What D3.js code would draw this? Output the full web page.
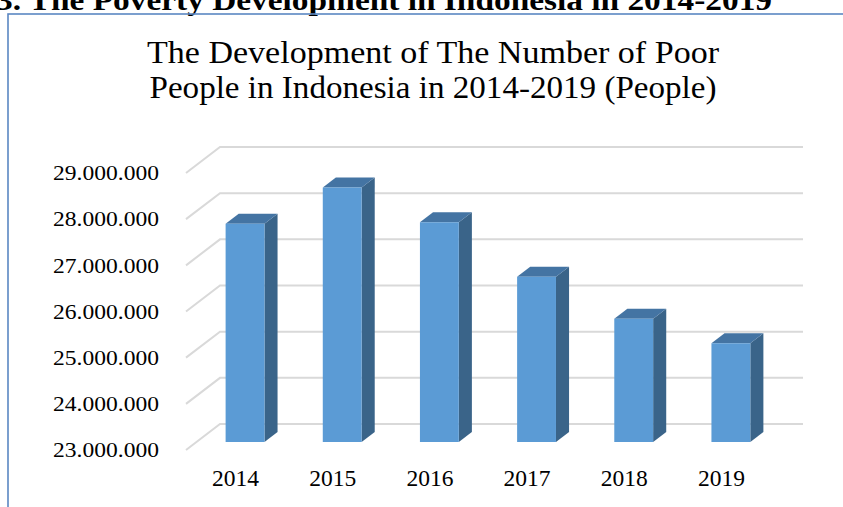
<!DOCTYPE html>
<html>
<head>
<meta charset="utf-8">
<script src="https://cdn.jsdelivr.net/npm/d3@7"></script>
<style>
  html, body { margin: 0; padding: 0; background: #fff; }
  svg { display: block; }
</style>
</head>
<body>
<svg id="chart" width="843" height="507"></svg>
<script>
// Number of poor people in Indonesia, 2014-2019
const years = ["2014", "2015", "2016", "2017", "2018", "2019"];
const poorPeople = [27730000, 28510000, 27760000, 26580000, 25670000, 25140000];
const yTicks = [23000000, 24000000, 25000000, 26000000, 27000000, 28000000, 29000000];
const headingText = "3. The Poverty Development in Indonesia in 2014-2019";
const titleLines = ["The Development of The Number of Poor", "People in Indonesia in 2014-2019 (People)"];

const W = 843, H = 507;
const SERIF = "'Liberation Serif', 'Times New Roman', Times, serif";
const svg = d3.select("#chart");

// Oblique projection of the 3D plot box: depth t in [0,1] shifts right and up
const DEPTH_X = 34, DEPTH_Y = -26;
const proj = (x, y, t) => [x + DEPTH_X * t, y + DEPTH_Y * t];

// Scales on the front plane of the plot box
const x = d3.scaleBand().domain(years).range([186, 769]).paddingInner(0.6).paddingOuter(0.3);
const y = d3.scaleLinear().domain([23000000, 29000000]).range([450, 173]);

// Section heading above the chart frame (clipped by the top of the page)
svg.append("text")
  .attr("x", -4).attr("y", 10)
  .attr("font-family", SERIF)
  .attr("font-weight", "bold")
  .attr("font-size", 30)
  .attr("textLength", 776)
  .attr("lengthAdjust", "spacingAndGlyphs")
  .text(headingText);

// Chart frame
svg.append("rect")
  .attr("x", 8).attr("y", 14)
  .attr("width", W + 20).attr("height", H + 20)
  .attr("fill", "none")
  .attr("stroke", "#5b87c2")
  .attr("stroke-width", 1.6);

// Title
const titleWidths = [572, 567];
svg.append("g")
  .selectAll("text")
  .data(titleLines)
  .join("text")
  .attr("x", 433)
  .attr("y", (d, i) => 63 + i * 35)
  .attr("text-anchor", "middle")
  .attr("font-family", SERIF)
  .attr("font-size", 31)
  .attr("textLength", (d, i) => titleWidths[i])
  .attr("lengthAdjust", "spacingAndGlyphs")
  .text(d => d);

// Gridlines: a short slanted segment on the side wall and a line across the back wall
const grid = svg.append("g").attr("fill", "none").attr("stroke", "#d9d9d9").attr("stroke-width", 2);
yTicks.forEach(v => {
  const a = proj(186, y(v), 0);
  const b = proj(186, y(v), 1);
  const c = proj(769, y(v), 1);
  grid.append("path").attr("d", d3.line()([a, b, c]));
});

// Value axis labels
svg.append("g")
  .selectAll("text")
  .data(yTicks)
  .join("text")
  .attr("x", 159)
  .attr("y", d => y(d))
  .attr("dy", "0.33em")
  .attr("text-anchor", "end")
  .attr("font-family", SERIF)
  .attr("font-size", 22)
  .attr("textLength", 106)
  .attr("lengthAdjust", "spacingAndGlyphs")
  .text(d => d3.format(",")(d).replace(/,/g, "."));

// Category labels
svg.append("g")
  .selectAll("text")
  .data(years)
  .join("text")
  .attr("x", d => x(d) + x.bandwidth() / 2 + 1)
  .attr("y", 486)
  .attr("text-anchor", "middle")
  .attr("font-family", SERIF)
  .attr("font-size", 24)
  .attr("textLength", 47)
  .attr("lengthAdjust", "spacingAndGlyphs")
  .text(d => d);

// 3D columns: front face, right side and top
const T0 = 8 / 26, T1 = 18 / 26;
const base = 23000000;
const poly = pts => "M" + pts.map(p => p.join(",")).join("L") + "Z";
svg.append("g")
  .selectAll("g")
  .data(years.map((yr, i) => ({ yr, v: poorPeople[i] })))
  .join("g")
  .each(function (d) {
    const g = d3.select(this);
    const xl = x(d.yr), xr = x(d.yr) + x.bandwidth();
    const yt = y(d.v), yb = y(base);
    // right side
    g.append("path")
      .attr("d", poly([proj(xr, yt, T0), proj(xr, yt, T1), proj(xr, yb, T1), proj(xr, yb, T0)]))
      .attr("fill", "#3a6489");
    // top
    g.append("path")
      .attr("d", poly([proj(xl, yt, T0), proj(xl, yt, T1), proj(xr, yt, T1), proj(xr, yt, T0)]))
      .attr("fill", "#4474a3");
    // front
    g.append("path")
      .attr("d", poly([proj(xl, yt, T0), proj(xr, yt, T0), proj(xr, yb, T0), proj(xl, yb, T0)]))
      .attr("fill", "#5b9bd5");
  });
</script>
</body>
</html>
